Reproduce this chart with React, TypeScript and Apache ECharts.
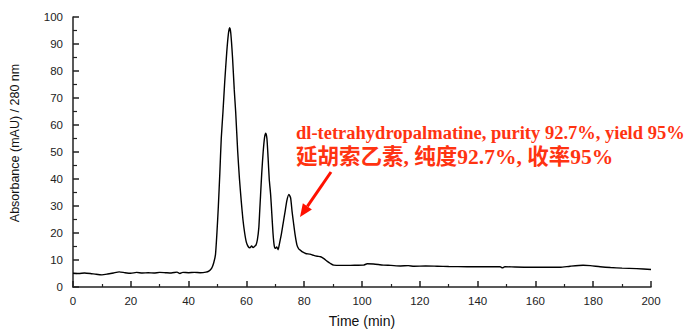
import React, { useEffect, useRef } from "react";
import * as echarts from "echarts";

const times: number[] = [
  0, 2, 4, 6, 8, 10, 12, 14, 16, 18, 20, 22, 24, 26, 28, 30, 32, 34, 36, 37, 38, 40, 42, 44, 46, 47, 48,
  48.7, 49.3, 49.8, 50.3, 50.8, 51.3, 51.9, 52.5, 53.2, 53.8, 54.2, 54.6, 55.2, 55.8, 56.3, 57.0, 57.6,
  58.2, 58.8, 59.4, 60.0, 60.6, 61.2, 61.8, 62.3, 62.8, 63.3, 63.8, 64.3, 64.6, 64.9, 65.3, 65.8, 66.3,
  66.7, 67.1, 67.5, 67.9, 68.4, 68.8, 69.2, 69.6, 70.0, 70.5, 71.0, 71.3, 72.0, 72.7, 73.4, 74.0, 74.7,
  75.3, 75.8, 76.3, 76.9, 77.5, 78.1, 78.8, 79.4, 80.5, 82, 83.3, 84.5, 85.7, 86.8, 88.0, 89.1, 90.2,
  93, 96, 98, 100.5, 101.8, 104, 107.4, 110, 113.3, 116, 118, 122, 126, 130, 136.4, 142, 147.8, 148.6,
  149.4, 153, 159.2, 164, 168.5, 172, 176.5, 179, 182.4, 186, 190, 195, 200,
];

const absorbance: number[] = [
  5.1, 5.0, 5.2, 5.0, 4.7, 4.5, 4.8, 5.2, 5.6, 5.3, 5.1, 5.4, 5.2, 5.3, 5.2, 5.4, 5.3, 5.2, 5.5, 5.0, 5.4, 5.3, 5.4, 5.3, 5.5, 5.9, 7.0,
  9.0, 12, 20, 30, 42, 55, 65, 76, 87, 94, 96, 94, 85, 73, 64.6, 50, 40,
  32, 25, 20, 16.5, 15, 14.5, 15.2, 14.6, 15.0, 15.5, 17.5, 22, 28, 34, 42, 50, 55.5,
  57, 55, 48, 40, 34, 27, 20, 15.5, 14.3, 14.8, 13.8, 15.3, 19, 23.5, 28, 32, 34.3,
  33, 28, 23.8, 19, 15.5, 14.1, 13.5, 13.0, 12.4, 12.2, 11.7, 11.4, 11.2, 10.5, 9.5, 8.7, 8.1,
  8.0, 8.0, 8.05, 8.1, 8.6, 8.5, 8.1, 8.0, 7.8, 7.9, 7.7, 7.8, 7.7, 7.6, 7.5, 7.5, 7.5, 7.1,
  7.5, 7.4, 7.3, 7.3, 7.3, 7.7, 8.05, 7.9, 7.5, 7.2, 7.0, 6.8, 6.5,
];

const xAxisTitle = "Time (min)";
const yAxisTitle = "Absorbance (mAU) / 280 nm";
const noteEn = "dl-tetrahydropalmatine, purity 92.7%, yield 95%";
const noteZh = "延胡索乙素, 纯度92.7%, 收率95%";

export default function App() {
  const ref = useRef<HTMLDivElement>(null);
  useEffect(() => {
    if (!ref.current) return;
    const chart = echarts.init(ref.current, undefined, { renderer: "svg" });
    const data = times.map((t, i) => [t, absorbance[i]]);
    const axisFont = { fontFamily: "Liberation Sans, Arial, sans-serif", fontSize: 11.5, color: "#222" };
    const tipX = 300, tipY = 217, startX = 331, startY = 172;
    const dx = tipX - startX, dy = tipY - startY;
    const len = Math.sqrt(dx * dx + dy * dy);
    const ux = dx / len, uy = dy / len;
    const headL = 13, headW = 5.5;
    const bx = tipX - ux * headL, by = tipY - uy * headL;
    const px = -uy, py = ux;
    chart.setOption({
      animation: false,
      grid: { left: 72, right: 37, top: 17, bottom: 39 },
      xAxis: {
        type: "value",
        min: 0,
        max: 200,
        interval: 20,
        name: xAxisTitle,
        nameLocation: "middle",
        nameGap: 27,
        nameTextStyle: { ...axisFont, fontSize: 14, color: "#111" },
        axisLine: { show: true, lineStyle: { color: "#222", width: 1.5 } },
        axisTick: { show: true, inside: true, length: 6, lineStyle: { color: "#222", width: 1.5 } },
        minorTick: { show: true, splitNumber: 2, length: 3, lineStyle: { color: "#222", width: 1.2 } },
        axisLabel: { ...axisFont, margin: 8 },
        splitLine: { show: false },
      },
      yAxis: {
        type: "value",
        min: 0,
        max: 100,
        interval: 10,
        name: yAxisTitle,
        nameLocation: "middle",
        nameGap: 52,
        nameTextStyle: { ...axisFont, fontSize: 12.5, color: "#111", padding: [0, 0, 0, 18] },
        axisLine: { show: true, lineStyle: { color: "#222", width: 1.5 } },
        axisTick: { show: true, inside: true, length: 6, lineStyle: { color: "#222", width: 1.5 } },
        minorTick: { show: true, splitNumber: 2, length: 4, lineStyle: { color: "#222", width: 1.2 } },
        axisLabel: { ...axisFont, margin: 10 },
        splitLine: { show: false },
      },
      series: [
        {
          type: "line",
          data,
          showSymbol: false,
          symbol: "none",
          smooth: 0.2,
          lineStyle: { color: "#000", width: 1.4 },
        },
      ],
      graphic: [
        {
          type: "text",
          left: 296,
          top: 123,
          style: {
            text: noteEn,
            fill: "#ff3311",
            font: "bold 18.5px 'Liberation Serif', 'Times New Roman', serif",
          },
        },
        {
          type: "text",
          left: 296,
          top: 146,
          style: {
            text: noteZh,
            fill: "#ff3311",
            font: "bold 21.5px 'Liberation Serif', 'Noto Sans CJK SC', serif",
          },
        },
        {
          type: "line",
          shape: { x1: startX, y1: startY, x2: bx, y2: by },
          style: { stroke: "#ff1100", lineWidth: 3 },
        },
        {
          type: "polygon",
          shape: {
            points: [
              [tipX, tipY],
              [bx + px * headW, by + py * headW],
              [bx - px * headW, by - py * headW],
            ],
          },
          style: { fill: "#ff1100" },
        },
      ],
    });
    return () => chart.dispose();
  }, []);
  return <div ref={ref} style={{ width: 688, height: 333, position: "absolute", left: 0, top: 0 }} />;
}
